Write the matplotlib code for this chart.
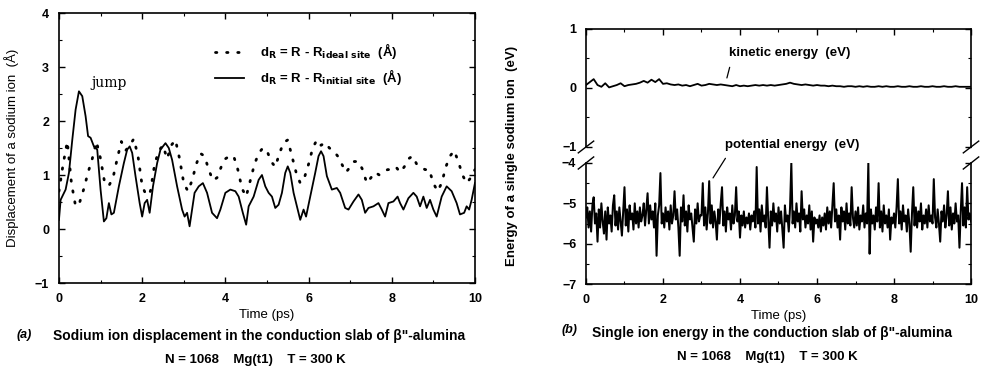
import numpy as np
import matplotlib.pyplot as plt
from matplotlib.lines import Line2D
from matplotlib.ticker import MultipleLocator

plt.rcParams['font.family'] = ['Liberation Sans', 'DejaVu Sans']
plt.rcParams['font.weight'] = 'bold'
plt.rcParams['font.size'] = 9.5
plt.rcParams['axes.linewidth'] = 1.2

# (a) displacement from the initial site (solid line)
t_init = [0.0, 0.04, 0.16, 0.24, 0.32, 0.4, 0.48, 0.56, 0.64, 0.7, 0.76, 0.84, 0.92, 1.0,
          1.08, 1.14, 1.2, 1.26, 1.32, 1.44, 1.56, 1.64, 1.7, 1.76, 1.84, 1.94, 2.0, 2.06,
          2.12, 2.18, 2.26, 2.36, 2.44, 2.56, 2.64, 2.72, 2.84, 2.96, 3.02, 3.08, 3.14, 3.2,
          3.26, 3.36, 3.46, 3.56, 3.68, 3.8, 3.88, 4.0, 4.12, 4.24, 4.32, 4.42, 4.5, 4.56,
          4.68, 4.8, 4.88, 4.96, 5.04, 5.12, 5.2, 5.28, 5.36, 5.44, 5.5, 5.56, 5.64, 5.72,
          5.8, 5.88, 5.94, 6.04, 6.16, 6.24, 6.3, 6.36, 6.44, 6.56, 6.68, 6.76, 6.88, 6.96,
          7.08, 7.2, 7.28, 7.36, 7.44, 7.56, 7.68, 7.76, 7.84, 7.92, 8.04, 8.14, 8.2, 8.28,
          8.4, 8.52, 8.6, 8.68, 8.76, 8.84, 8.92, 9.0, 9.08, 9.2, 9.32, 9.44, 9.56, 9.64,
          9.74, 9.8, 9.86, 9.92, 10.0]
d_init = [0.17, 0.54, 0.73, 1.04, 1.65, 2.21, 2.55, 2.46, 2.09, 1.72, 1.69, 1.53, 1.47, 0.73,
          0.14, 0.2, 0.48, 0.27, 0.3, 0.79, 1.22, 1.47, 1.53, 1.41, 0.98, 0.48, 0.23, 0.48,
          0.54, 0.3, 0.79, 1.22, 1.47, 1.59, 1.5, 1.28, 0.79, 0.36, 0.23, 0.3, 0.05, 0.36,
          0.67, 0.79, 0.85, 0.67, 0.3, 0.2, 0.36, 0.67, 0.73, 0.7, 0.6, 0.3, 0.08, 0.42,
          0.6, 0.91, 1.0, 0.79, 0.67, 0.6, 0.39, 0.45, 0.67, 1.04, 1.16, 1.04, 0.67, 0.42,
          0.17, 0.36, 0.23, 0.6, 1.04, 1.35, 1.44, 1.35, 0.98, 0.73, 0.76, 0.67, 0.39, 0.36,
          0.51, 0.64, 0.54, 0.3, 0.39, 0.42, 0.48, 0.36, 0.23, 0.48, 0.51, 0.6, 0.48, 0.36,
          0.57, 0.67, 0.6, 0.42, 0.6, 0.39, 0.54, 0.36, 0.23, 0.6, 0.79, 0.7, 0.48, 0.27,
          0.3, 0.42, 0.36, 0.54, 0.85]

# (a) displacement from the ideal site (dotted line), every 0.1 ps
t_ideal = [i / 10 for i in range(101)]
d_ideal = [0.7, 1.2, 1.62, 0.85, 0.42, 0.5, 0.75, 1.05, 1.3, 1.62,
           1.3, 0.85, 0.8, 0.95, 1.3, 1.62, 1.45, 1.55, 1.67, 1.35,
           0.8, 0.62, 0.7, 1.2, 1.45, 1.55, 1.3, 1.55, 1.65, 1.3,
           0.85, 0.7, 0.9, 1.2, 1.4, 1.35, 1.1, 0.9, 0.95, 1.15,
           1.3, 1.35, 1.35, 1.1, 0.75, 0.6, 0.9, 1.2, 1.4, 1.5,
           1.45, 1.25, 1.15, 1.4, 1.6, 1.65, 1.35, 1.05, 0.85, 0.95,
           1.2, 1.5, 1.65, 1.55, 1.6, 1.5, 1.45, 1.35, 1.2, 1.05,
           1.15, 1.25, 1.25, 1.1, 0.85, 0.95, 1.05, 1.0, 1.05, 1.1,
           1.1, 1.15, 1.05, 1.15, 1.3, 1.35, 1.2, 1.15, 1.1, 1.1,
           0.85, 0.7, 0.85, 1.15, 1.35, 1.45, 1.25, 1.0, 0.85, 0.95,
           1.1]

# (b) kinetic energy, every 0.1 ps
t_kin = [i / 10 for i in range(101)]
e_kin = [0.05, 0.1, 0.15, 0.05, 0.02, 0.08, 0.01, 0.03, 0.05, 0.08,
         0.03, 0.05, 0.06, 0.07, 0.09, 0.12, 0.09, 0.14, 0.1, 0.15,
         0.07, 0.08, 0.06, 0.05, 0.06, 0.04, 0.05, 0.03, 0.05, 0.07,
         0.04, 0.05, 0.07, 0.06, 0.05, 0.06, 0.05, 0.04, 0.03, 0.05,
         0.03, 0.04, 0.03, 0.04, 0.05, 0.04, 0.05, 0.04, 0.05, 0.04,
         0.05, 0.06, 0.07, 0.09, 0.07, 0.06, 0.05, 0.06, 0.05, 0.04,
         0.05, 0.04, 0.04, 0.03, 0.04, 0.03, 0.03, 0.02, 0.03, 0.03,
         0.02, 0.03, 0.02, 0.03, 0.02, 0.02, 0.03, 0.02, 0.03, 0.02,
         0.02, 0.03, 0.02, 0.02, 0.03, 0.02, 0.02, 0.03, 0.02, 0.02,
         0.03, 0.02, 0.02, 0.03, 0.02, 0.02, 0.03, 0.02, 0.02, 0.02,
         0.02]

# (b) potential energy, 30 samples per ps (one row per ps)
t_pot = [i / 30 for i in range(301)]
e_pot = [-5.35, -5.1, -5.6, -5.2, -5.7, -5.05, -4.85, -5.5, -5.25, -5.95, -5.15, -5.6, -5.0, -5.45, -5.75,
         -5.2, -5.9, -5.1, -5.5, -5.3, -5.7, -5.05, -4.8, -5.55, -5.2, -5.65, -5.1, -5.45, -5.8, -5.2,
         -4.6, -5.55, -5.15, -5.7, -5.05, -5.4, -5.25, -5.65, -5.0, -5.5, -5.2, -5.6, -5.1, -5.45, -5.3,
         -5.0, -5.55, -5.15, -4.75, -5.5, -5.05, -5.4, -5.2, -5.6, -5.0, -6.3, -5.3, -5.05, -4.25, -5.5,
         -5.25, -5.6, -5.1, -5.45, -5.2, -5.65, -5.05, -5.5, -5.3, -4.7, -5.4, -5.15, -5.6, -6.3, -5.1,
         -5.45, -4.8, -5.55, -5.2, -5.7, -5.05, -5.4, -5.25, -5.6, -5.95, -5.15, -5.5, -5.0, -5.45, -5.3,
         -5.3, -4.5, -5.55, -5.1, -5.65, -5.25, -4.45, -5.5, -5.05, -5.6, -5.2, -5.45, -5.9, -5.15, -5.5,
         -5.0, -4.6, -5.55, -5.2, -5.7, -5.1, -5.4, -5.25, -5.65, -5.05, -5.5, -5.3, -4.6, -5.45, -5.2,
         -5.85, -5.3, -5.55, -5.2, -5.6, -5.35, -5.5, -5.25, -5.65, -5.3, -5.45, -5.2, -5.6, -4.1, -5.5,
         -5.15, -5.7, -5.05, -5.45, -5.3, -5.6, -4.6, -5.4, -6.1, -5.2, -5.55, -5.0, -5.45, -5.25, -5.7,
         -5.1, -5.5, -5.2, -5.65, -6.1, -5.05, -5.45, -5.3, -5.7, -5.1, -4.0, -5.5, -5.2, -5.6, -5.0,
         -5.45, -5.25, -5.7, -4.7, -5.4, -5.15, -5.6, -5.3, -5.5, -5.05, -5.65, -5.2, -5.95, -5.35, -5.5,
         -5.4, -5.6, -5.3, -5.7, -5.35, -5.55, -5.25, -5.65, -5.1, -5.5, -5.2, -5.6, -5.05, -4.5, -5.45,
         -5.15, -5.6, -5.3, -5.9, -5.1, -5.45, -5.2, -5.65, -5.0, -5.5, -5.25, -5.55, -4.6, -5.35, -5.6,
         -5.2, -5.55, -5.1, -5.65, -5.3, -5.45, -5.05, -5.6, -5.25, -5.5, -4.0, -6.25, -5.15, -5.5, -5.3,
         -5.65, -5.1, -5.45, -4.5, -5.6, -5.2, -5.7, -5.05, -5.5, -5.3, -5.6, -5.15, -5.9, -5.35, -5.5,
         -5.25, -5.6, -5.1, -4.4, -5.5, -5.2, -5.65, -5.05, -5.45, -5.3, -5.7, -5.15, -5.5, -6.2, -5.25,
         -4.6, -5.55, -5.1, -5.6, -5.2, -5.45, -5.0, -5.65, -5.3, -5.5, -5.15, -5.6, -5.05, -5.45, -5.3,
         -5.5, -4.4, -5.35, -5.6, -5.15, -5.5, -5.95, -5.2, -5.45, -5.05, -5.6, -5.3, -4.7, -5.55, -5.1,
         -5.65, -5.25, -5.5, -5.0, -5.45, -5.3, -6.1, -5.2, -4.5, -5.55, -5.1, -5.6, -4.6, -5.4, -5.25,
         -5.45]

fig = plt.figure(figsize=(9.86, 3.74), dpi=100)

def style(ax, ymaj, ymin):
    ax.tick_params(direction='in', top=True, right=True, length=4, width=1, labelsize=9, pad=7)
    ax.tick_params(which='minor', direction='in', top=True, right=True, length=2, width=0.8)
    ax.xaxis.set_major_locator(MultipleLocator(2))
    ax.xaxis.set_minor_locator(MultipleLocator(1))
    ax.yaxis.set_major_locator(MultipleLocator(ymaj))
    ax.yaxis.set_minor_locator(MultipleLocator(ymin))
    ax.set_xlim(0, 10)

#%% panel (a)
axa = fig.add_axes([0.0598, 0.2433, 0.4219, 0.7219])
style(axa, 1, 0.5)
axa.set_ylim(-1, 4)
axa.plot(t_ideal, d_ideal, color='black', lw=2.0, linestyle=(0, (0.5, 3.5)), dash_capstyle='round')
axa.plot(t_init, d_init, color='black', lw=1.3)
axa.set_xlabel('Time (ps)', labelpad=3)
axa.set_ylabel('Displacement of a sodium ion  (Å)')
axa.yaxis.set_label_coords(-0.097, 0.5)
axa.text(1.2, 2.71, 'jump', ha='center', va='center', fontsize=10, fontweight='normal', family='DejaVu Serif')
handles = [Line2D([], [], color='black', lw=2.0, linestyle=(0, (0.5, 3.5)), dash_capstyle='round'),
           Line2D([], [], color='black', lw=1.3)]
labels = [r'd$_\mathbf{R}$ = R - R$_\mathbf{ideal\ site}$  (Å)',
          r'd$_\mathbf{R}$ = R - R$_\mathbf{initial\ site}$  (Å)']
axa.legend(handles, labels, loc='upper left', bbox_to_anchor=(0.36, 0.92), frameon=False,
           handlelength=2.2, handletextpad=1.2, borderpad=0, labelspacing=0.45, fontsize=9.5)

#%% panel (b), broken y axis
axt = fig.add_axes([0.5943, 0.6070, 0.3905, 0.3155])
axb = fig.add_axes([0.5943, 0.2406, 0.3905, 0.3236])
style(axt, 1, 0.5)
style(axb, 1, 0.5)
axt.set_ylim(-1, 1)
axb.set_ylim(-7, -4)
axt.spines['bottom'].set_visible(False)
axb.spines['top'].set_visible(False)
axt.tick_params(which='both', bottom=False, labelbottom=False)
axb.tick_params(which='both', top=False)
axt.plot(t_kin, e_kin, color='black', lw=1.3)
axb.plot(t_pot, e_pot, color='black', lw=1.45)
axb.set_xlabel('Time (ps)', labelpad=3)

# break marks
for ax, y in ((axt, 0), (axb, 1)):
    for x in (0, 1):
        ax.plot([x - 0.02, x + 0.02], [y - 0.05, y + 0.05],
                transform=ax.transAxes, color='black', lw=1.0, clip_on=False)

axt.annotate('kinetic energy  (eV)', xy=(3.66, 0.17), xytext=(5.3, 0.59), ha='center', va='center',
             arrowprops=dict(arrowstyle='-', lw=0.9, color='black', relpos=(0.02, 0), shrinkA=4, shrinkB=0))
axb.annotate('potential energy  (eV)', xy=(3.3, -4.37), xytext=(5.35, -3.55), ha='center', va='center',
             annotation_clip=False,
             arrowprops=dict(arrowstyle='-', lw=0.9, color='black', relpos=(0.04, 0), shrinkA=4, shrinkB=0))

fig.text(0.519, 0.582, 'Energy of a single sodium ion  (eV)', rotation=90, ha='center', va='center')

#%% captions
fig.text(0.017, 0.104, '(a)', ha='left', va='center', style='italic', fontsize=9)
fig.text(0.054, 0.102, 'Sodium ion displacement in the conduction slab of β"-alumina', ha='left', va='center', fontsize=10)
fig.text(0.2586, 0.037, 'N = 1068    Mg(t1)    T = 300 K', ha='center', va='center')
fig.text(0.570, 0.118, '(b)', ha='left', va='center', style='italic', fontsize=9)
fig.text(0.600, 0.110, 'Single ion energy in the conduction slab of β"-alumina', ha='left', va='center', fontsize=10)
fig.text(0.778, 0.045, 'N = 1068    Mg(t1)    T = 300 K', ha='center', va='center')

fig.savefig('out.png', dpi=100)
